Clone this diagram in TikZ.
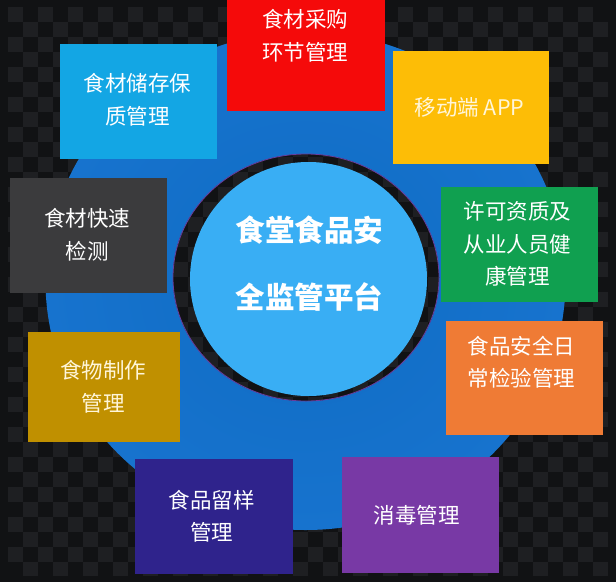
\documentclass[tikz,border=0pt]{standalone}
\usepackage{fontspec}
\newfontfamily\cjk{Noto Sans CJK SC}
\definecolor{bg}{HTML}{111214}
\definecolor{chk}{HTML}{1E1F22}
\definecolor{bbin}{HTML}{0F6CC3}
\definecolor{bbout}{HTML}{1773CE}
\definecolor{ringline}{HTML}{6A3C9C}
\definecolor{core}{HTML}{39AEF4}
\definecolor{cred}{HTML}{F50A0A}
\definecolor{ccyan}{HTML}{13A6E4}
\definecolor{cyellow}{HTML}{FDBD06}
\definecolor{cgrey}{HTML}{3B3B3D}
\definecolor{cgreen}{HTML}{10A050}
\definecolor{cgold}{HTML}{C09000}
\definecolor{corange}{HTML}{EF7B35}
\definecolor{cindigo}{HTML}{2F238C}
\definecolor{cpurple}{HTML}{7839A5}
\definecolor{tint}{HTML}{FFF6DA}
\newcommand\mychecker{%
  \foreach \i in {0,...,39}{\foreach \j in {0,...,37}{%
    \ifodd\numexpr\i+\j\relax\else
      \fill[chk] ({8+15*\i},{7+15*\j}) rectangle ++(15,15);
    \fi}}}
\begin{document}
\begin{tikzpicture}[x=1pt,y=-1pt,
  box/.style={rectangle, inner sep=0pt, draw=none},
  lbl/.style={font=\cjk\fontsize{21.5}{32.5}\selectfont, text=white, align=center, inner sep=0pt}]
\clip (0,0) rectangle (616,582);
\fill[bg] (0,0) rectangle (616,582);
\begin{scope}
  \clip (8,7) rectangle (608,575);
  \mychecker
\end{scope}
% big disc
\shade[inner color=bbin, outer color=bbout] (305.5,281) ellipse [x radius=260, y radius=249];
% transparent ring
\begin{scope}
  \clip (306,277.5) ellipse [x radius=133, y radius=123.5];
  \fill[bg] (0,0) rectangle (616,582);
  \mychecker
\end{scope}
\draw[ringline, line width=0.8pt] (306,277.5) ellipse [x radius=133, y radius=123.5];
\fill[core] (308.5,279) ellipse [x radius=118.5, y radius=117];
\node[font=\cjk\bfseries\fontsize{29.5}{67}\selectfont, text=white, align=center, inner sep=0pt] (title) at (309.5,263.5) {食堂食品安\\全监管平台};
% boxes
\node[box, fill=cred,    minimum width=158, minimum height=116] (b1) at (306,53) {};
\node[box, fill=ccyan,   minimum width=157, minimum height=115] (b2) at (138.5,101.5) {};
\node[box, fill=cyellow, minimum width=156, minimum height=113] (b3) at (471,107.5) {};
\node[box, fill=cgrey,   minimum width=157, minimum height=115] (b4) at (88.5,235.5) {};
\node[box, fill=cgreen,  minimum width=157, minimum height=115] (b5) at (519.5,244.5) {};
\node[box, fill=cgold,   minimum width=152, minimum height=110] (b6) at (104,387) {};
\node[box, fill=corange, minimum width=157, minimum height=114] (b7) at (524.5,378) {};
\node[box, fill=cindigo, minimum width=158, minimum height=115] (b8) at (214,516.5) {};
\node[box, fill=cpurple, minimum width=157, minimum height=116] (b9) at (420.5,515) {};
% labels
\node[lbl] (t1) at (305,36) {食材采购\\环节管理};
\node[lbl] (t2) at (137.5,100) {食材储存保\\质管理};
\node[lbl, text=tint] (t3) at (469.5,107.6) {移动端 APP};
\node[lbl] (t4) at (87,234.8) {食材快速\\检测};
\node[lbl] (t5) at (517.5,244) {许可资质及\\从业人员健\\康管理};
\node[lbl, text=tint] (t6) at (103,387) {食物制作\\管理};
\node[lbl] (t7) at (521.6,362) {食品安全日\\常检验管理};
\node[lbl] (t8) at (211.7,516.5) {食品留样\\管理};
\node[lbl] (t9) at (416.7,515) {消毒管理};
\end{tikzpicture}
\end{document}
